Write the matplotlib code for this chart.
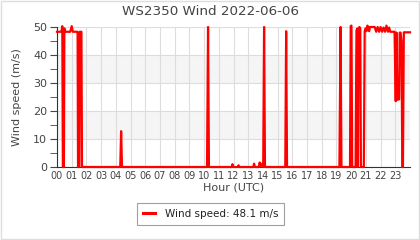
import matplotlib
matplotlib.use("Agg")
import matplotlib.pyplot as plt
from matplotlib.patches import Rectangle

# wind speed samples (hour UTC, m/s)
hours = [0.00, 0.30, 0.36, 0.40, 0.47, 0.50, 0.56, 0.90, 1.00, 1.08,
         1.40, 1.43, 1.52, 1.55, 1.66, 1.70, 4.30, 4.36, 4.42, 10.20,
         10.27, 10.33, 11.88, 11.93, 11.98, 12.30, 12.34, 12.38, 13.35, 13.40,
         13.45, 13.72, 13.78, 13.84, 13.95, 14.02, 14.08, 14.14, 15.52, 15.58,
         15.64, 19.20, 19.28, 19.34, 19.92, 19.97, 20.02, 20.07, 20.30, 20.36,
         20.42, 20.46, 20.50, 20.56, 20.62, 20.66, 20.86, 20.92, 20.98, 21.04,
         21.10, 21.16, 21.22, 21.28, 21.50, 21.60, 21.70, 21.80, 21.90, 22.00,
         22.10, 22.20, 22.30, 22.40, 22.50, 22.58, 22.66, 22.95, 23.03, 23.08,
         23.14, 23.26, 23.30, 23.36, 23.42, 23.48, 23.52, 23.58, 24.00]
speed = [48.3, 48.3, 50.3, 0.0, 0.0, 49.5, 48.3, 48.3, 50.3, 48.3,
         48.3, 0.0, 0.0, 48.3, 48.3, 0.0, 0.0, 12.8, 0.0, 0.0,
         50.0, 0.0, 0.0, 1.0, 0.0, 0.0, 0.6, 0.0, 0.0, 1.2,
         0.0, 0.0, 1.6, 0.2, 1.2, 0.0, 50.0, 0.0, 0.0, 48.5,
         0.0, 0.0, 50.0, 0.0, 0.0, 50.3, 50.5, 0.0, 0.0, 48.8,
         49.5, 0.0, 49.0, 50.0, 49.5, 0.0, 0.0, 48.5, 49.5, 48.5,
         50.5, 50.0, 48.5, 50.0, 50.0, 50.0, 48.3, 50.0, 48.3, 50.0,
         48.3, 49.8, 48.3, 50.5, 48.3, 49.8, 48.3, 48.3, 23.5, 48.0,
         24.0, 24.2, 48.0, 48.0, 45.0, 0.0, 0.0, 48.1, 48.1]

hour_labels = ["%02d" % h for h in range(24)]
current = 48.1

fig = plt.figure(figsize=(4.2, 2.4), dpi=100)
ax = fig.add_axes([57 / 420, 1 - 167 / 240, 353 / 420, 140 / 240])

# alternating bands
for lo in (10, 30):
    ax.axhspan(lo, lo + 10, color="#f5f5f5", zorder=0, lw=0)

ax.plot(hours, speed, color="red", lw=1.6, label="Wind speed: %.1f m/s" % current,
        zorder=3, clip_on=False)

ax.set_xlim(0, 24)
ax.set_ylim(0, 50)
ax.set_xticks(range(24))
ax.set_xticklabels(hour_labels)
ax.set_yticks(range(0, 51, 10))
ax.set_yticks(range(5, 50, 10), minor=True)
ax.grid(True, color="#dddddd", lw=0.8, zorder=1)
ax.set_axisbelow(True)

for s in ("top", "right"):
    ax.spines[s].set_visible(False)
ax.spines["left"].set_color("#333333")
ax.spines["bottom"].set_color("#333333")
ax.tick_params(axis="x", labelsize=7, colors="#444444", length=0, pad=3)
ax.tick_params(axis="y", labelsize=8, colors="#444444", length=5, pad=2)
ax.tick_params(axis="y", which="minor", length=5, colors="#444444")

ax.set_xlabel("Hour (UTC)", fontsize=8, color="#444444", labelpad=1)
ax.set_ylabel("Wind speed (m/s)", fontsize=8, color="#444444", labelpad=8)
fig.text(0.5, 0.952, "WS2350 Wind 2022-06-06", ha="center", va="center",
         fontsize=9.7, color="#444444")

leg = fig.legend(loc="center", bbox_to_anchor=(0.502, 0.108), fontsize=7.5,
                 fancybox=False, edgecolor="#888888", handlelength=1.1,
                 borderpad=0.55, handletextpad=1.0)
leg.get_frame().set_linewidth(0.8)
leg.get_lines()[0].set_linewidth(2.2)
for t in leg.get_texts():
    t.set_color("#222222")

fig.patches.append(Rectangle((0.002, 0.003), 0.995, 0.993, transform=fig.transFigure,
                             fill=False, edgecolor="#dddddd", lw=1))

fig.savefig("out.png", dpi=100)
